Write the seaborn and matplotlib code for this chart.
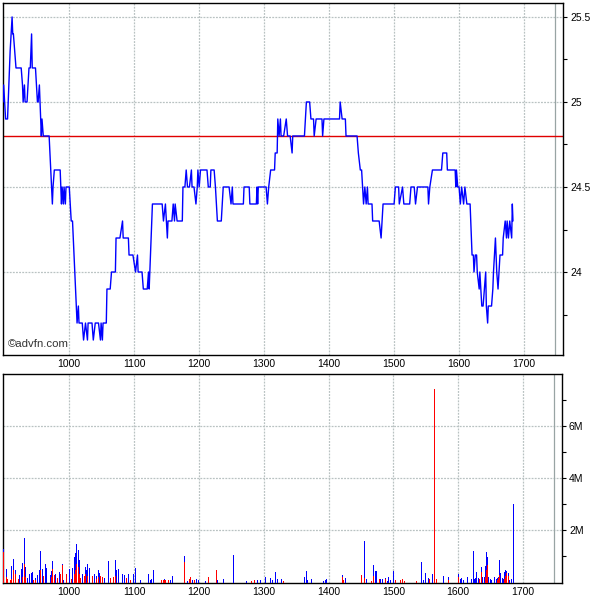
import matplotlib
matplotlib.use("Agg")
import matplotlib.pyplot as plt
from matplotlib.ticker import FixedLocator, FuncFormatter
import seaborn as sns
import pandas as pd

# price trace (time units on the x axis, price)
price_t = [898, 899, 902, 905, 909, 912, 913, 914, 918, 926, 928, 929, 931, 932, 935, 938, 940, 942,
           943, 948, 951, 952, 954, 955, 957, 958, 960, 969, 974, 975, 977, 986, 988, 989, 991, 992,
           994, 995, 1000, 1003, 1005, 1012, 1014, 1015, 1020, 1022, 1025, 1028, 1029, 1035, 1037,
           1040, 1045, 1048, 1049, 1051, 1052, 1057, 1058, 1063, 1065, 1071, 1072, 1078, 1082, 1083,
           1091, 1092, 1098, 1102, 1105, 1106, 1112, 1114, 1120, 1122, 1123, 1128, 1143, 1145, 1148,
           1151, 1152, 1158, 1160, 1162, 1163, 1166, 1174, 1175, 1178, 1180, 1182, 1185, 1188, 1189,
           1192, 1195, 1197, 1198, 1200, 1202, 1212, 1214, 1217, 1218, 1223, 1225, 1228, 1234, 1237,
           1246, 1249, 1251, 1252, 1268, 1269, 1277, 1278, 1288, 1289, 1290, 1291, 1303, 1305, 1307,
           1310, 1316, 1317, 1320, 1321, 1323, 1325, 1326, 1330, 1334, 1336, 1340, 1343, 1344, 1362,
           1365, 1370, 1372, 1376, 1377, 1380, 1389, 1390, 1392, 1416, 1417, 1420, 1425, 1426, 1443,
           1445, 1448, 1450, 1453, 1455, 1457, 1459, 1460, 1466, 1467, 1477, 1480, 1483, 1500, 1502,
           1507, 1508, 1513, 1515, 1524, 1526, 1531, 1533, 1536, 1552, 1553, 1555, 1559, 1573, 1575,
           1581, 1582, 1594, 1595, 1596, 1598, 1600, 1602, 1604, 1607, 1609, 1612, 1617, 1620, 1622,
           1623, 1625, 1627, 1628, 1631, 1632, 1635, 1637, 1641, 1642, 1644, 1645, 1650, 1652, 1653,
           1656, 1658, 1660, 1663, 1667, 1668, 1671, 1673, 1674, 1676, 1678, 1681, 1682, 1683]
price_v = [25.0, 25.1, 24.9, 24.9, 25.3, 25.5, 25.4, 25.4, 25.2, 25.2, 25.1, 25.0, 25.1, 25.0, 25.0, 25.2, 25.2, 25.4,
           25.2, 25.2, 25.0, 25.0, 25.1, 25.0, 24.8, 24.9, 24.8, 24.8, 24.4, 24.5, 24.6, 24.6, 24.4, 24.5, 24.4, 24.5,
           24.4, 24.5, 24.5, 24.3, 24.3, 23.7, 23.8, 23.7, 23.7, 23.6, 23.7, 23.6, 23.7, 23.7, 23.6,
           23.7, 23.7, 23.6, 23.7, 23.6, 23.7, 23.7, 23.9, 23.9, 24.0, 24.0, 24.2, 24.2, 24.3, 24.2,
           24.2, 24.1, 24.1, 24.0, 24.1, 24.0, 24.0, 23.9, 23.9, 24.0, 23.9, 24.4, 24.4, 24.3, 24.4,
           24.2, 24.3, 24.3, 24.4, 24.3, 24.4, 24.3, 24.3, 24.5, 24.5, 24.6, 24.5, 24.5, 24.6, 24.5,
           24.5, 24.4, 24.5, 24.6, 24.5, 24.6, 24.6, 24.5, 24.5, 24.6, 24.6, 24.5, 24.3, 24.3, 24.5,
           24.5, 24.4, 24.5, 24.4, 24.4, 24.5, 24.5, 24.4, 24.4, 24.5, 24.4, 24.5, 24.5, 24.4, 24.5,
           24.6, 24.6, 24.7, 24.7, 24.9, 24.8, 24.9, 24.8, 24.8, 24.9, 24.8, 24.8, 24.7, 24.8, 24.8,
           25.0, 25.0, 24.9, 24.9, 24.8, 24.9, 24.9, 24.8, 24.9, 24.9, 25.0, 24.9, 24.9, 24.8, 24.8,
           24.7, 24.6, 24.6, 24.4, 24.5, 24.4, 24.5, 24.4, 24.4, 24.3, 24.3, 24.2, 24.4, 24.4, 24.5,
           24.5, 24.4, 24.5, 24.4, 24.4, 24.5, 24.5, 24.4, 24.5, 24.5, 24.4, 24.5, 24.6, 24.6, 24.7,
           24.7, 24.6, 24.6, 24.5, 24.6, 24.5, 24.5, 24.4, 24.5, 24.4, 24.5, 24.4, 24.4, 24.1, 24.1,
           24.0, 24.1, 24.1, 24.0, 23.9, 24.0, 23.8, 23.8, 24.0, 23.8, 23.7, 23.8, 23.8, 23.9, 24.0,
           24.2, 24.0, 23.9, 24.1, 24.1, 24.2, 24.3, 24.2, 24.3, 24.2, 24.3, 24.2, 24.4, 24.3]
prev_close = 24.8

# volume in millions: blue = total bar, red = lower part
blue_t = [898, 903, 911, 913, 914, 916, 923, 925, 927, 930, 932, 935, 938, 941, 943, 948, 950, 953,
          955, 958, 963, 965, 970, 972, 974, 978, 984, 989, 991, 1000, 1005, 1007, 1009, 1011, 1013,
          1015, 1020, 1025, 1026, 1028, 1030, 1039, 1041, 1044, 1046, 1054, 1060, 1070, 1073, 1076,
          1081, 1084, 1091, 1099, 1102, 1110, 1122, 1124, 1126, 1130, 1146, 1155, 1158, 1177, 1182,
          1189, 1195, 1199, 1210, 1228, 1237, 1253, 1272, 1290, 1295, 1302, 1309, 1313, 1318, 1320,
          1327, 1330, 1362, 1365, 1367, 1373, 1391, 1394, 1396, 1420, 1426, 1454, 1457, 1468, 1471,
          1473, 1480, 1483, 1487, 1490, 1492, 1494, 1500, 1543, 1545, 1549, 1553, 1560, 1576, 1584,
          1600, 1603, 1605, 1607, 1613, 1620, 1622, 1624, 1626, 1628, 1631, 1635, 1637, 1640, 1642,
          1643, 1644, 1646, 1649, 1651, 1655, 1658, 1660, 1661, 1663, 1665, 1667, 1669, 1671, 1672,
          1674, 1676, 1677, 1679, 1682, 1685]
blue_v = [1.25, 0.48, 0.61, 0.58, 0.88, 0.45, 0.26, 0.48, 0.74, 1.68, 0.58, 0.17, 0.32, 0.35, 0.39, 0.17, 0.26, 0.45,
          1.19, 0.48, 0.71, 0.52, 0.26, 0.43, 0.79, 0.32, 0.39, 0.71, 0.09, 0.48, 0.52, 0.97, 1.10, 1.46, 1.23,
          0.86, 0.32, 0.58, 0.45, 0.71, 0.52, 0.32, 0.22, 0.45, 0.35, 0.17, 0.80, 0.84, 0.45, 0.48,
          0.32, 0.26, 0.32, 0.32, 0.52, 0.06, 0.32, 0.06, 0.13, 0.45, 0.13, 0.09, 0.22, 0.99, 0.04,
          0.06, 0.13, 0.06, 0.04, 0.09, 0.13, 1.03, 0.04, 0.09, 0.06, 0.19, 0.17, 0.09, 0.39, 0.13,
          0.10, 0.05, 0.18, 0.42, 0.08, 0.10, 0.04, 0.08, 0.10, 0.27, 0.14, 1.58, 0.10, 0.65, 0.42,
          0.42, 0.13, 0.10, 0.14, 0.05, 0.18, 0.08, 0.42, 0.78, 0.08, 0.36, 0.14, 0.31, 0.23, 0.21,
          0.31, 0.10, 0.14, 0.08, 0.21, 0.10, 1.19, 0.10, 0.14, 0.40, 0.14, 0.56, 0.18, 0.21, 0.62,
          1.17, 0.97, 0.21, 0.10, 0.08, 0.18, 0.10, 0.14, 0.18, 0.85, 0.33, 0.14, 0.10, 0.40, 0.46,
          0.44, 0.36, 0.27, 0.08, 0.10, 3.00]
red_t = [898, 903, 904, 909, 911, 914, 916, 921, 927, 930, 932, 945, 948, 955, 960, 972, 974, 976,
         981, 986, 989, 995, 1003, 1007, 1009, 1011, 1013, 1015, 1017, 1023, 1025, 1028, 1035, 1041,
         1044, 1048, 1051, 1063, 1067, 1070, 1088, 1094, 1142, 1144, 1146, 1148, 1153, 1177, 1185,
         1187, 1192, 1214, 1226, 1280, 1285, 1330, 1420, 1423, 1450, 1454, 1466, 1468, 1478, 1487,
         1502, 1510, 1513, 1517, 1535, 1555, 1562, 1566, 1584, 1600, 1632, 1635, 1642, 1643, 1644,
         1660, 1661, 1663, 1671, 1672, 1674, 1676]
red_v = [1.16, 0.19, 0.13, 0.09, 0.13, 0.45, 0.30, 0.13, 0.20, 0.71, 0.19, 0.09, 0.09, 0.45, 0.22, 0.19, 0.48, 0.26,
         0.17, 0.32, 0.65, 0.30, 0.13, 0.32, 0.45, 0.71, 0.58, 0.32, 0.17, 0.22, 0.32, 0.22, 0.22, 0.13,
         0.19, 0.22, 0.19, 0.17, 0.19, 0.22, 0.17, 0.06, 0.06, 0.09, 0.09, 0.09, 0.06, 0.77, 0.13,
         0.19, 0.06, 0.19, 0.45, 0.04, 0.06, 0.05, 0.21, 0.08, 0.27, 0.14, 0.05, 0.23, 0.10, 0.12,
         0.08, 0.08, 0.12, 0.05, 0.05, 0.10, 7.41, 0.10, 0.08, 0.21, 0.10, 0.40, 0.18, 0.46, 0.65,
         0.08, 0.14, 0.27, 0.10, 0.23, 0.36, 0.23]

x_ticks = [1000, 1100, 1200, 1300, 1400, 1500, 1600, 1700]
price_ticks = [24, 24.5, 25, 25.5]
price_labels = ["24", "24.5", "25", "25.5"]
vol_ticks = [2, 4, 6]

sns.set_theme(style="white")
plt.rcParams["font.family"] = ["Liberation Sans", "DejaVu Sans"]

grid_kw = dict(color="#b9c2c2", linestyle=(0, (1.5, 1)), linewidth=0.9)

fig = plt.figure(figsize=(6, 6), dpi=100)
ax1 = fig.add_axes([3 / 600, 245 / 600, 560 / 600, 352 / 600])
ax2 = fig.add_axes([3 / 600, 17 / 600, 559 / 600, 209 / 600])

price = pd.DataFrame({"t": price_t, "p": price_v})
sns.lineplot(data=price, x="t", y="p", sort=False, estimator=None,
             color="#0000ff", linewidth=1.0, ax=ax1, zorder=3)
ax1.axhline(prev_close, color="#e00000", linewidth=1.0, zorder=2)

# volume: one-pixel bars, blue total behind, red part in front
ax2.vlines(blue_t, 0, blue_v, colors="#0000ff", linewidth=0.5, antialiased=False, zorder=3)
ax2.vlines(red_t, 0, red_v, colors="#ff0000", linewidth=0.5, antialiased=False, zorder=4)

for ax in (ax1, ax2):
    ax.set_xlim(898, 1760)
    ax.set_xticks(x_ticks)
    ax.set_xticklabels([str(t) for t in x_ticks])
    ax.set_xlabel("")
    ax.set_ylabel("")
    ax.yaxis.tick_right()
    ax.grid(True, which="major", **grid_kw)
    ax.axvline(1747, color="#98a4a4", linewidth=0.9, zorder=1)
    for s in ax.spines.values():
        s.set_color("black")
        s.set_linewidth(1.0)
    ax.tick_params(axis="x", length=0, pad=3, labelsize=7.5, colors="black")
    ax.tick_params(axis="y", which="both", direction="out", length=3, width=0.8,
                   pad=2, labelsize=7.5, colors="black", right=True, left=False)

ax1.set_ylim(23.512, 25.582)
ax1.set_yticks(price_ticks)
ax1.set_yticklabels(price_labels)
ax1.yaxis.set_minor_locator(FixedLocator([23.75, 24.25, 24.75, 25.25]))
ax1.text(0.008, 0.016, "\u00a9advfn.com", transform=ax1.transAxes,
         fontsize=8.2, color="#333333", ha="left", va="bottom")

ax2.set_ylim(-0.04, 8.0)
ax2.set_yticks(vol_ticks)
ax2.yaxis.set_major_formatter(FuncFormatter(lambda v, p: f"{v:.0f}M"))
ax2.yaxis.set_minor_locator(FixedLocator([1, 3, 5, 7]))

fig.savefig("out.png", dpi=100)
